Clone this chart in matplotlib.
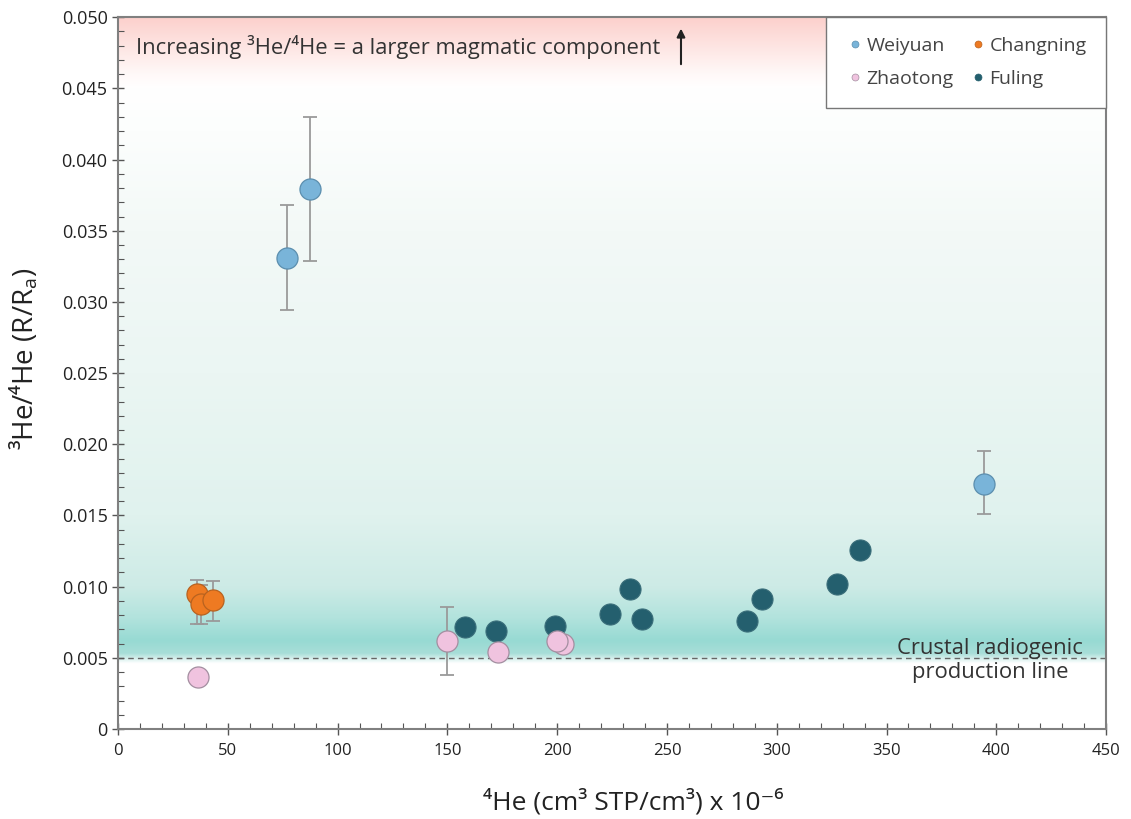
import numpy as np
import matplotlib
matplotlib.use("Agg")
import matplotlib.pyplot as plt
from matplotlib.colors import to_rgb
from matplotlib.ticker import MultipleLocator, FuncFormatter
from matplotlib.lines import Line2D

plt.rcParams['font.family'] = ['Open Sans', 'DejaVu Sans']

# ---- data ----
weiyuan_x = [77.0, 87.4, 394.4]
weiyuan_y = [0.0331, 0.0379, 0.0172]
weiyuan_lo = [0.0294, 0.0329, 0.0151]
weiyuan_hi = [0.0368, 0.0430, 0.0195]

changning_x = [36.0, 37.8, 43.3]
changning_y = [0.00948, 0.00878, 0.00903]
changning_lo = [0.0074, 0.0074, 0.0076]
changning_hi = [0.0105, 0.0101, 0.0104]

zhaotong_x = [36.4, 149.8, 173.0, 202.6, 200.0]
zhaotong_y = [0.00365, 0.00618, 0.00540, 0.00600, 0.00620]
zhaotong_err_x = [149.8]
zhaotong_err_lo = [0.0038]
zhaotong_err_hi = [0.0086]

fuling_x = [158.0, 172.1, 199.0, 224.0, 233.2, 238.6, 286.4, 293.3, 327.4, 337.9]
fuling_y = [0.00716, 0.00688, 0.00723, 0.00808, 0.00983, 0.00772, 0.00758, 0.00913, 0.01018, 0.01257]

crustal_line = 0.005

fig = plt.figure(figsize=(11.31, 8.19), dpi=100)
ax = fig.add_axes([0.1043, 0.1099, 0.978 - 0.1043, 0.979 - 0.1099])

# ---- background gradient ----
stops = [
    (0.0000, '#ffffff'),
    (0.0046, '#ffffff'),
    (0.0053, '#a8ded8'),
    (0.0062, '#97dad3'),
    (0.0078, '#b2e3dd'),
    (0.0100, '#cdebe6'),
    (0.0150, '#e0f2ee'),
    (0.0250, '#ebf6f3'),
    (0.0350, '#f3f9f7'),
    (0.0420, '#fcfefd'),
    (0.0450, '#ffffff'),
    (0.0460, '#fff9f8'),
    (0.0500, '#fcd0cc'),
]
ys = np.linspace(0, 0.05, 1000)
sy = [s[0] for s in stops]
cols = np.array([to_rgb(s[1]) for s in stops])
img = np.stack([np.interp(ys, sy, cols[:, k]) for k in range(3)], axis=-1)
img = img[:, None, :]
ax.imshow(img, extent=[0, 450, 0, 0.05], origin='lower', aspect='auto', zorder=0, interpolation='bilinear')

# ---- crustal line ----
ax.axhline(crustal_line, color='#666666', lw=1.0, ls=(0, (4, 3)), zorder=1)

# ---- error bars ----
ecol = '#9a9a9a'
def errs(y, lo, hi):
    y = np.array(y); return [y - np.array(lo), np.array(hi) - y]

ekw = dict(fmt='none', ecolor=ecol, elinewidth=1.3, capsize=5, capthick=1.3, zorder=2)
ax.errorbar(weiyuan_x, weiyuan_y, yerr=errs(weiyuan_y, weiyuan_lo, weiyuan_hi), **ekw)
ax.errorbar(changning_x, changning_y, yerr=errs(changning_y, changning_lo, changning_hi), **ekw)
zy = [zhaotong_y[zhaotong_x.index(x)] for x in zhaotong_err_x]
ax.errorbar(zhaotong_err_x, zy, yerr=errs(zy, zhaotong_err_lo, zhaotong_err_hi), **ekw)

# ---- points ----
ms = 230
ax.scatter(fuling_x, fuling_y, s=ms, c='#245f6e', edgecolors='#3a6e7a', linewidths=0.8, zorder=3, label='Fuling')
ax.scatter(zhaotong_x, zhaotong_y, s=ms, c='#f0c3df', edgecolors='#a38ea0', linewidths=0.9, zorder=4, label='Zhaotong')
ax.scatter(changning_x, changning_y, s=ms, c='#ee7a22', edgecolors='#b8621f', linewidths=0.9, zorder=4, label='Changning')
ax.scatter(weiyuan_x, weiyuan_y, s=ms, c='#79b4d9', edgecolors='#5b8eae', linewidths=0.9, zorder=4, label='Weiyuan')

# ---- axes ----
ax.set_xlim(0, 450)
ax.set_ylim(0, 0.05)
ax.xaxis.set_major_locator(MultipleLocator(50))
ax.xaxis.set_minor_locator(MultipleLocator(10))
ax.yaxis.set_major_locator(MultipleLocator(0.005))
ax.yaxis.set_minor_locator(MultipleLocator(0.001))
ax.yaxis.set_major_formatter(FuncFormatter(lambda v, p: '0' if abs(v) < 1e-9 else f'{v:.3f}'))
ax.tick_params(axis='both', which='major', direction='inout', length=8, width=1, color='#555555',
               labelsize=12, labelcolor='#222222')
ax.tick_params(axis='y', which='major', labelsize=13)
ax.tick_params(axis='both', which='minor', direction='in', length=4, width=0.8, color='#555555')
ax.tick_params(axis='x', pad=6)
for s in ax.spines.values():
    s.set_color('#808080')
    s.set_linewidth(1.5)

ax.set_xlabel('⁴He (cm³ STP/cm³) x 10⁻⁶', fontsize=19, color='#222222')
ax.set_ylabel('³He/⁴He (R/R$\\mathregular{_a}$)', fontsize=20, color='#222222')
ax.xaxis.set_label_coords(0.521, -0.084)
ax.yaxis.set_label_coords(-0.078, 0.52)

# ---- annotations ----
ax.text(8, 0.0479, 'Increasing ³He/⁴He = a larger magmatic component', fontsize=15.8, color='#333333',
        va='center', ha='left', zorder=5)
ax.annotate('', xy=(256.4, 0.0492), xytext=(256.4, 0.0467),
            arrowprops=dict(arrowstyle='-|>', color='#222222', lw=1.5, mutation_scale=12,
                            shrinkA=0, shrinkB=0), zorder=5)
ax.text(397.3, 0.00527, 'Crustal radiogenic', fontsize=15.8, color='#333333', ha='center', va='baseline', zorder=5)
ax.text(397.3, 0.00358, 'production line', fontsize=15.8, color='#333333', ha='center', va='baseline', zorder=5)

# ---- legend ----
h = [Line2D([], [], ls='none', marker='o', ms=5, mfc='#79b4d9', mec='#5b8eae', mew=0.5),
     Line2D([], [], ls='none', marker='o', ms=5, mfc='#f0c3df', mec='#a38ea0', mew=0.5),
     Line2D([], [], ls='none', marker='o', ms=5, mfc='#ee7a22', mec='#b8621f', mew=0.5),
     Line2D([], [], ls='none', marker='o', ms=5, mfc='#245f6e', mec='#245f6e', mew=0.5)]
labels = ['Weiyuan', 'Zhaotong', 'Changning', 'Fuling']
leg = ax.legend(h, labels, ncol=2, loc='upper right', bbox_to_anchor=(1.0, 1.0), fontsize=14,
                frameon=True, fancybox=False, edgecolor='#777777', handletextpad=0.1,
                columnspacing=0.75, labelspacing=0.8, borderpad=1.0, handlelength=1.0,
                borderaxespad=0.0)
leg.get_frame().set_linewidth(1.0)
leg.get_frame().set_facecolor('white')
leg.get_frame().set_alpha(1.0)
for t in leg.get_texts():
    t.set_color('#444444')
leg.set_zorder(6)

fig.savefig('out.png', dpi=100)
